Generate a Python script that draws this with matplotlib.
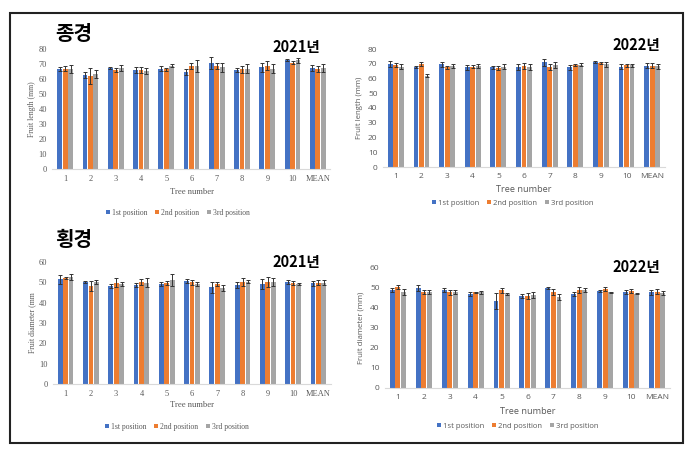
import matplotlib
matplotlib.use("Agg")
import matplotlib.pyplot as plt
import numpy as np
from matplotlib.patches import Rectangle

W, H = 689, 454

trees = ["1", "2", "3", "4", "5", "6", "7", "8", "9", "10", "MEAN"]
positions = ["1st position", "2nd position", "3rd position"]
colors = ["#4472C4", "#ED7D31", "#A5A5A5"]

# fruit length 2021 (mm)
len21_p1 = [66.5, 63.0, 67.5, 66.0, 67.0, 65.0, 71.0, 66.0, 68.0, 72.5, 67.5]
len21_p2 = [67.0, 62.0, 66.0, 66.0, 66.5, 68.5, 69.0, 66.5, 69.0, 71.0, 67.0]
len21_p3 = [66.8, 63.5, 67.5, 65.5, 69.0, 68.5, 68.0, 67.0, 67.0, 72.5, 67.5]
len21_e1 = [1.2, 2.0, 0.5, 2.0, 1.5, 2.0, 4.0, 1.5, 3.0, 0.8, 2.0]
len21_e2 = [1.5, 5.5, 1.5, 2.0, 1.0, 2.0, 2.0, 2.5, 3.0, 1.0, 2.0]
len21_e3 = [2.5, 2.5, 2.0, 2.0, 1.0, 4.0, 3.0, 3.0, 3.0, 1.5, 2.5]

# fruit length 2022 (mm)
len22_p1 = [69.8, 67.8, 69.6, 67.6, 67.6, 67.6, 71.0, 67.6, 71.0, 68.0, 68.7]
len22_p2 = [69.3, 69.8, 67.6, 68.0, 67.1, 68.7, 68.0, 69.2, 70.5, 69.0, 68.7]
len22_p3 = [68.0, 61.9, 68.3, 68.5, 68.0, 67.6, 69.0, 69.2, 69.5, 69.0, 68.2]
len22_e1 = [2.0, 1.0, 1.5, 1.5, 1.0, 2.0, 2.5, 1.5, 0.8, 1.5, 1.5]
len22_e2 = [1.5, 1.5, 1.0, 1.0, 1.5, 2.0, 2.0, 0.8, 1.0, 1.0, 1.5]
len22_e3 = [1.5, 1.0, 1.5, 1.5, 1.5, 2.0, 2.0, 1.0, 1.5, 1.0, 1.5]

# fruit diameter 2021 (mm)
dia21_p1 = [51.4, 50.1, 48.4, 48.6, 49.2, 50.7, 47.5, 48.6, 49.0, 50.2, 49.6]
dia21_p2 = [51.9, 48.1, 49.9, 50.0, 49.5, 50.1, 49.2, 50.0, 50.2, 49.5, 49.9]
dia21_p3 = [52.7, 50.0, 49.0, 49.9, 51.3, 49.4, 47.1, 50.4, 50.2, 49.2, 49.9]
dia21_e1 = [2.0, 0.5, 1.0, 1.0, 1.0, 0.8, 2.5, 1.5, 2.5, 1.0, 1.2]
dia21_e2 = [0.5, 2.5, 2.0, 1.5, 1.0, 1.2, 1.2, 2.0, 2.5, 1.0, 1.2]
dia21_e3 = [1.5, 1.0, 1.0, 2.0, 3.0, 1.0, 1.5, 0.8, 2.0, 0.5, 1.2]

# fruit diameter 2022 (mm)
dia22_p1 = [48.8, 50.0, 48.8, 47.2, 43.3, 45.8, 50.0, 47.2, 48.5, 48.2, 47.8]
dia22_p2 = [50.5, 48.2, 47.8, 47.8, 48.8, 46.2, 48.0, 49.0, 49.3, 48.3, 48.2]
dia22_p3 = [48.2, 48.2, 47.8, 47.8, 47.2, 46.7, 45.5, 48.8, 47.8, 47.2, 47.5]
dia22_e1 = [1.0, 1.3, 1.0, 1.0, 4.0, 1.0, 0.3, 1.0, 0.7, 1.0, 1.2]
dia22_e2 = [0.8, 1.0, 1.2, 0.3, 1.2, 1.5, 1.5, 1.5, 1.0, 1.0, 1.2]
dia22_e3 = [1.5, 1.0, 1.0, 0.7, 0.5, 1.5, 1.5, 1.0, 0.3, 0.3, 1.0]


def fx(x):
    return x / W


def fy(y):
    return 1 - y / H


fig = plt.figure(figsize=(W / 100, H / 100), dpi=100)

# outer frame
fig.patches.append(Rectangle((fx(10), fy(443)), fx(683) - fx(10), fy(13) - fy(443),
                             transform=fig.transFigure, fill=False,
                             edgecolor="#222222", linewidth=1.5))


def panel(px, means, errs, ymax, ylabel, serif, legend_xy, tn_y, ylab_x):
    left, right, top, bottom = px
    ax = fig.add_axes([fx(left), fy(bottom), fx(right) - fx(left), fy(top) - fy(bottom)])
    fam = ["Liberation Serif"] if serif else ["Open Sans"]
    x = np.arange(len(trees))
    handles = []
    for i in range(3):
        b = ax.bar(x + (i - 1) * 0.215, means[i], 0.19, color=colors[i],
                   yerr=errs[i], capsize=1.6,
                   error_kw=dict(ecolor="#333333", elinewidth=0.7, capthick=0.7),
                   label=positions[i])
        handles.append(b)
    ax.set_xlim(-0.5, len(trees) - 0.5)
    ax.set_ylim(0, ymax)
    ax.set_yticks(np.arange(0, ymax + 1, 10))
    ax.set_xticks(x)
    ax.set_xticklabels(trees)
    for s in ["top", "right", "left"]:
        ax.spines[s].set_visible(False)
    ax.spines["bottom"].set_color("#D9D9D9")
    ax.tick_params(length=0, labelsize=6, labelcolor="#595959", pad=4)
    for lab in ax.get_xticklabels() + ax.get_yticklabels():
        lab.set_family(fam)
    cx = (left + right) / 2
    fig.text(fx(cx), fy(tn_y), "Tree number", ha="center", va="center",
             fontsize=6.2 if serif else 6.6, color="#595959", family=fam)
    fig.text(fx(ylab_x), fy((top + bottom) / 2), ylabel, ha="center", va="center",
             rotation=90, fontsize=5.6, color="#595959", family=fam)
    fig.legend(handles=handles, loc="center", bbox_to_anchor=(fx(legend_xy[0]), fy(legend_xy[1])),
               ncol=3, frameon=False, handlelength=0.5, handleheight=0.5,
               handletextpad=0.3, columnspacing=1.0,
               prop=dict(family=fam, size=5.5), labelcolor="#595959")
    return ax


panel((52.5, 330.5, 49, 169), [len21_p1, len21_p2, len21_p3], [len21_e1, len21_e2, len21_e3],
      80, "Fruit length (mm)", True, (178, 213), 192, 32)
panel((383, 665, 49, 167), [len22_p1, len22_p2, len22_p3], [len22_e1, len22_e2, len22_e3],
      80, "Fruit length (mm)", False, (513, 203), 189, 359)
panel((53, 331, 262, 384), [dia21_p1, dia21_p2, dia21_p3], [dia21_e1, dia21_e2, dia21_e3],
      60, "Fruit diameter (mm", True, (177, 427), 405, 32)
panel((385, 670, 268, 388), [dia22_p1, dia22_p2, dia22_p3], [dia22_e1, dia22_e2, dia22_e3],
      60, "Fruit diameter (mm)", False, (518, 426), 412, 361)

kfont = ["Noto Sans CJK KR", "DejaVu Sans"]
fig.text(fx(55), fy(33), "종경", ha="left", va="center", fontsize=14.5, fontweight="bold", family=kfont)
fig.text(fx(55), fy(240), "횡경", ha="left", va="center", fontsize=14.5, fontweight="bold", family=kfont)
fig.text(fx(320), fy(47), "2021년", ha="right", va="center", fontsize=10.5, fontweight="bold", family=kfont)
fig.text(fx(660), fy(45), "2022년", ha="right", va="center", fontsize=10.5, fontweight="bold", family=kfont)
fig.text(fx(320), fy(262), "2021년", ha="right", va="center", fontsize=10.5, fontweight="bold", family=kfont)
fig.text(fx(660), fy(267), "2022년", ha="right", va="center", fontsize=10.5, fontweight="bold", family=kfont)

fig.savefig("out.png", dpi=100)
